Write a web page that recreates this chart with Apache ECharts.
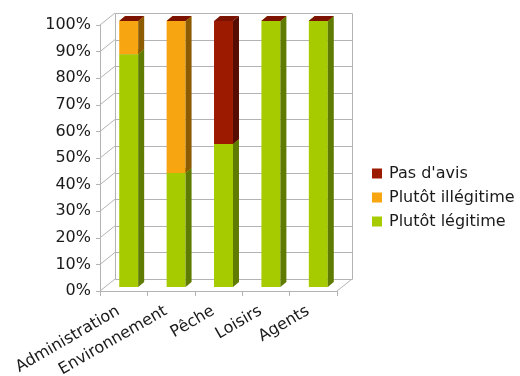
<!DOCTYPE html>
<html>
<head>
<meta charset="utf-8">
<script src="https://cdn.jsdelivr.net/npm/echarts@6/dist/echarts.min.js"></script>
<style>
  html, body { margin: 0; padding: 0; background: #ffffff; }
  #chart { width: 520px; height: 376px; }
</style>
</head>
<body>
<div id="chart"></div>
<script>
// Opinion per group, as shares of respondents (%)
const categories = ['Administration', 'Environnement', 'Pêche', 'Loisirs', 'Agents'];
const plutotLegitime = [87.5, 42.9, 53.8, 100, 100];
const plutotIllegitime = [12.5, 57.1, 0, 0, 0];
const pasDAvis = [0, 0, 46.2, 0, 0];
const yTicks = [0, 10, 20, 30, 40, 50, 60, 70, 80, 90, 100];

// Pseudo-3D geometry (pixels)
const WALL = [15, -12];      // depth of the box (front plane to back wall)
const BAR_FRONT = [5, -4];   // bar front face offset from the front plane
const BAR_DEPTH = [6, -5];   // thickness of each bar
const BAR_RATIO = 0.4;       // bar width as share of the category band
const FRAME_COLOR = '#b3b3b3';
const FONT = 'DejaVu Sans';

// Stack bottoms/tops for each series
const seriesDefs = [
  { name: 'Plutôt légitime', values: plutotLegitime, face: '#a6cc00', side: '#5f7b00', top: '#7f9e00' },
  { name: 'Plutôt illégitime', values: plutotIllegitime, face: '#f7a511', side: '#8d5c00', top: '#b87a00' },
  { name: "Pas d'avis", values: pasDAvis, face: '#9c1a00', side: '#560c00', top: '#7c1300' }
];
const base = categories.map(() => 0);
seriesDefs.forEach(def => {
  def.data = def.values.map((v, i) => {
    const lo = base[i];
    base[i] = lo + v;
    return [i, lo, lo + v];
  });
});

function crisp(v) { return Math.round(v) + 0.5; }

function barRenderer(def) {
  return function (params, api) {
    const cat = api.value(0);
    const lo = api.value(1);
    const hi = api.value(2);
    const pLo = api.coord([cat, lo]);
    const pHi = api.coord([cat, hi]);
    const w = api.size([1, 0])[0] * BAR_RATIO;
    const x0 = pLo[0] - w / 2 + BAR_FRONT[0];
    const x1 = x0 + w;
    const yb = pLo[1] + BAR_FRONT[1];
    const yt = pHi[1] + BAR_FRONT[1];
    const dx = BAR_DEPTH[0], dy = BAR_DEPTH[1];
    const children = [];
    if (yb - yt > 0.01) {
      children.push({
        type: 'polygon',
        shape: { points: [[x0, yt], [x1, yt], [x1, yb], [x0, yb]] },
        style: { fill: def.face }
      });
      children.push({
        type: 'polygon',
        shape: { points: [[x1, yb], [x1 + dx, yb + dy], [x1 + dx, yt + dy], [x1, yt]] },
        style: { fill: def.side }
      });
    }
    children.push({
      type: 'polygon',
      shape: { points: [[x0, yt], [x1, yt], [x1 + dx, yt + dy], [x0 + dx, yt + dy]] },
      style: { fill: def.top }
    });
    return { type: 'group', children: children };
  };
}

// Side wall, back wall and floor lines of the box
function frameRenderer(params, api) {
  const cs = params.coordSys;
  const v = api.value(1);
  const left = cs.x, right = cs.x + cs.width;
  const y = api.coord([0, v])[1];
  const dx = WALL[0], dy = WALL[1];
  const lineStyle = { stroke: FRAME_COLOR, lineWidth: 1, fill: null };
  const children = [
    { type: 'line', shape: { x1: left, y1: y, x2: left + dx, y2: y + dy }, style: lineStyle },
    { type: 'line', shape: { x1: crisp(left + dx), y1: crisp(y + dy), x2: crisp(right + dx), y2: crisp(y + dy) }, style: lineStyle }
  ];
  if (v === 0) {
    const yTop = api.coord([0, 100])[1];
    children.push({ type: 'line', shape: { x1: right, y1: y, x2: right + dx, y2: y + dy }, style: lineStyle });
    children.push({ type: 'line', shape: { x1: crisp(left + dx), y1: crisp(y + dy), x2: crisp(left + dx), y2: crisp(yTop + dy) }, style: lineStyle });
    children.push({ type: 'line', shape: { x1: crisp(right + dx), y1: crisp(y + dy), x2: crisp(right + dx), y2: crisp(yTop + dy) }, style: lineStyle });
  }
  return { type: 'group', children: children };
}

const chart = echarts.init(document.getElementById('chart'), null, { renderer: 'canvas' });

const series = [{
  type: 'custom',
  name: 'frame',
  silent: true,
  z: 1,
  renderItem: frameRenderer,
  data: yTicks.map(t => [0, t])
}];
seriesDefs.forEach((def, k) => {
  series.push({
    type: 'custom',
    name: def.name,
    z: 2 + k,
    itemStyle: { color: def.face },
    renderItem: barRenderer(def),
    encode: { x: 0, y: [1, 2] },
    data: def.data
  });
});

chart.setOption({
  animation: false,
  backgroundColor: '#ffffff',
  grid: { left: 100, top: 25, width: 237, height: 266, containLabel: false, outerBoundsMode: 'none' },
  legend: {
    data: ["Pas d'avis", 'Plutôt illégitime', 'Plutôt légitime'],
    orient: 'vertical',
    left: 372,
    top: 164,
    padding: 0,
    itemWidth: 10,
    itemHeight: 10,
    itemGap: 5,
    icon: 'rect',
    selectedMode: false,
    textStyle: { fontFamily: FONT, fontSize: 16, color: '#1a1a1a', lineHeight: 19, padding: [0, 0, 0, 2] }
  },
  xAxis: {
    type: 'category',
    data: categories,
    axisLine: { show: true, lineStyle: { color: FRAME_COLOR } },
    axisTick: { show: true, length: 5, lineStyle: { color: FRAME_COLOR } },
    axisLabel: {
      interval: 0,
      rotate: 30,
      margin: 16,
      padding: [0, 6, 0, 0],
      fontFamily: FONT,
      fontSize: 16,
      color: '#1a1a1a'
    },
    splitLine: { show: false }
  },
  yAxis: {
    type: 'value',
    min: 0,
    max: 100,
    interval: 10,
    axisLine: { show: true, lineStyle: { color: FRAME_COLOR } },
    axisTick: { show: true, length: 4, lineStyle: { color: FRAME_COLOR } },
    axisLabel: {
      formatter: '{value}%',
      margin: 9,
      fontFamily: FONT,
      fontSize: 16,
      color: '#1a1a1a'
    },
    splitLine: { show: false }
  },
  series: series
});
</script>
</body>
</html>
